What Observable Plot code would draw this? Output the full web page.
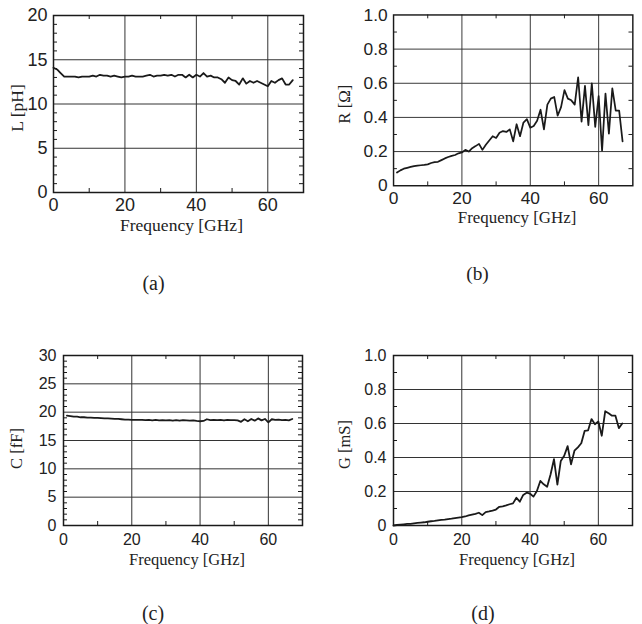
<!DOCTYPE html>
<html>
<head>
<meta charset="utf-8">
<script src="https://cdn.jsdelivr.net/npm/d3@7"></script>
<script src="https://cdn.jsdelivr.net/npm/@observablehq/plot@0.6"></script>
<style>
  html, body { margin: 0; padding: 0; background: #fff; }
  body { width: 642px; height: 624px; overflow: hidden; position: relative; }
  .panel { position: absolute; }
  .panel svg { overflow: visible; }
</style>
</head>
<body>
<div id="a" class="panel" style="left:0px;top:0px"></div>
<div id="b" class="panel" style="left:340px;top:0px"></div>
<div id="c" class="panel" style="left:0px;top:312px"></div>
<div id="d" class="panel" style="left:330px;top:312px"></div>
<script>
// ---------- data ----------
const freq = [0,1,2,3,4,5,6,7,8,9,10,11,12,13,14,15,16,17,18,19,20,21,22,23,24,25,26,27,28,29,30,31,32,33,34,35,36,37,38,39,40,41,42,43,44,45,46,47,48,49,50,51,52,53,54,55,56,57,58,59,60,61,62,63,64,65,66,67];
const freqFrom1 = [1,2,3,4,5,6,7,8,9,10,11,12,13,14,15,16,17,18,19,20,21,22,23,24,25,26,27,28,29,30,31,32,33,34,35,36,37,38,39,40,41,42,43,44,45,46,47,48,49,50,51,52,53,54,55,56,57,58,59,60,61,62,63,64,65,66,67];

// L [pH], f = 0..67
const L = [14.1,13.9,13.5,13.1,13.1,13.1,13.1,13.0,13.1,13.1,13.1,13.2,13.1,13.3,13.2,13.2,13.1,13.2,13.1,13.0,
           13.1,13.1,13.2,13.1,13.1,13.1,13.2,13.3,13.1,13.2,13.2,13.3,13.2,13.3,13.1,13.3,13.3,13.0,13.3,13.0,
           13.3,13.1,13.5,13.1,13.2,13.0,13.0,12.8,12.4,13.0,12.7,12.6,12.2,12.9,12.3,12.6,12.4,12.6,12.4,12.2,
           12.0,12.6,12.4,12.7,12.9,12.2,12.2,12.7];
// R [Ohm], f = 1..67
const R = [0.077,0.09,0.10,0.105,0.11,0.115,0.118,0.12,0.122,0.125,0.133,0.138,0.14,0.15,0.16,0.168,0.175,0.18,0.19,0.195,
           0.21,0.20,0.22,0.232,0.245,0.21,0.24,0.265,0.29,0.28,0.31,0.32,0.315,0.33,0.26,0.36,0.29,0.37,0.39,0.34,
           0.35,0.38,0.445,0.33,0.475,0.51,0.52,0.41,0.46,0.56,0.51,0.50,0.475,0.635,0.375,0.585,0.355,0.60,0.345,0.525,
           0.205,0.54,0.305,0.57,0.44,0.44,0.26];
// C [fF], f = 1..67
const C = [19.4,19.3,19.2,19.2,19.1,19.1,19.05,19.05,19.0,19.0,18.95,18.9,18.9,18.85,18.8,18.8,18.75,18.7,18.7,18.65,
           18.65,18.65,18.65,18.6,18.65,18.55,18.65,18.55,18.6,18.55,18.6,18.5,18.6,18.5,18.6,18.55,18.5,18.55,18.45,18.4,
           18.45,18.75,18.6,18.65,18.6,18.65,18.55,18.65,18.6,18.6,18.55,18.3,18.75,18.4,18.8,18.5,18.9,18.55,18.8,18.2,
           18.75,18.65,18.7,18.6,18.65,18.55,18.8];
// G [mS], f = 0..67
const G = [0.0,0.003,0.005,0.007,0.009,0.01,0.013,0.015,0.017,0.019,0.022,0.025,0.027,0.03,0.033,0.035,0.038,0.04,0.043,0.046,
           0.049,0.053,0.059,0.064,0.069,0.075,0.061,0.079,0.083,0.088,0.094,0.11,0.112,0.118,0.125,0.13,0.163,0.14,0.18,0.193,
           0.187,0.17,0.203,0.262,0.242,0.228,0.30,0.39,0.24,0.38,0.41,0.467,0.36,0.44,0.46,0.484,0.557,0.56,0.626,0.596,
           0.612,0.528,0.672,0.66,0.646,0.646,0.573,0.60];

// ---------- ticks & labels ----------
const xTicks = [0,20,40,60];
const xGrid = [20,40,60];
const xMinor = [10,30,50];
const lTicks = [0,5,10,15,20];
const lGrid = [5,10,15];
const lMinor = [1,2,3,4,6,7,8,9,11,12,13,14,16,17,18,19];
const cTicks = [0,5,10,15,20,25,30];
const cGrid = [5,10,15,20,25];
const cMinor = [1,2,3,4,6,7,8,9,11,12,13,14,16,17,18,19,21,22,23,24,26,27,28,29];
const unitTicks = [0,0.2,0.4,0.6,0.8,1.0];
const unitGrid = [0.2,0.4,0.6,0.8];
const unitMinor = [0.1,0.3,0.5,0.7,0.9];
const xTitle = "Frequency [GHz]";
const yTitles = ["L [pH]", "R [Ω]", "C [fF]", "G [mS]"];
const tags = ["(a)", "(b)", "(c)", "(d)"];

const SANS = "'Liberation Sans', Arial, Helvetica, sans-serif";
const SERIF = "'Liberation Serif', 'Times New Roman', Times, serif";
const unitFmt = d => d === 0 ? "0" : d.toFixed(1);

function panel(p) {
  const fw = p.width - p.ml - p.mr;
  const fh = p.height - p.mt - p.mb;
  const ink = "#1a1a1a";
  return Plot.plot({
    width: p.width, height: p.height,
    marginLeft: p.ml, marginRight: p.mr, marginTop: p.mt, marginBottom: p.mb,
    style: {fontFamily: SANS, fontSize: p.tickFont + "px", color: "#222", background: "transparent", overflow: "visible"},
    x: {domain: [0, 70]},
    y: {domain: p.yDomain},
    marks: [
      Plot.gridX(xGrid, {stroke: "#333", strokeOpacity: 1, strokeWidth: 1}),
      Plot.gridY(p.yGrid, {stroke: "#333", strokeOpacity: 1, strokeWidth: 1}),
      Plot.tickX(xMinor, {x: d => d, insetTop: fh - 4, stroke: ink}),
      Plot.tickX(xMinor, {x: d => d, insetBottom: fh - 4, stroke: ink}),
      Plot.tickY(p.yMinor, {y: d => d, insetRight: fw - 4, stroke: ink}),
      Plot.tickY(p.yMinor, {y: d => d, insetLeft: fw - 4, stroke: ink}),
      Plot.line(p.values, {x: p.fr, y: p.values, stroke: ink, strokeWidth: 1.8, strokeLinejoin: "round"}),
      Plot.frame({stroke: ink, strokeWidth: 1.5}),
      Plot.axisX(xTicks, {tickSize: 0, tickPadding: p.xPad, label: null, fill: "#222", fontSize: p.tickFont}),
      Plot.axisY(p.yTicks, {tickSize: 0, tickPadding: p.yPad, label: null, tickFormat: p.yFmt, fill: "#222", fontSize: p.tickFont}),
      Plot.text([xTitle], {text: d => d, frameAnchor: "bottom", dx: p.titleDx, dy: p.titleDy,
        textAnchor: "middle", lineAnchor: "middle",
        fontFamily: SERIF, fontSize: p.titleFont, fill: "#222"}),
      Plot.text([p.yTitle], {text: d => d, frameAnchor: "left", dx: p.yTitleDx, dy: p.yTitleDy, rotate: -90,
        textAnchor: "middle", lineAnchor: "middle",
        fontFamily: SERIF, fontSize: p.titleFont, fill: "#222"}),
      Plot.text([p.tag], {text: d => d, frameAnchor: "bottom", dx: p.tagDx, dy: p.tagDy,
        textAnchor: "middle", lineAnchor: "middle",
        fontFamily: SERIF, fontSize: 20, fill: "#222"})
    ]
  });
}

document.getElementById("a").append(panel({
  values: L, fr: freq, yDomain: [0, 20], yTicks: lTicks, yGrid: lGrid, yMinor: lMinor, yFmt: d => String(d),
  width: 313, height: 312, ml: 53, mr: 10, mt: 15, mb: 120,
  tickFont: 18, titleFont: 17.5, xPad: 6, yPad: 6,
  titleDx: 3, titleDy: 33, yTitle: yTitles[0], yTitleDx: -36, yTitleDy: 4,
  tag: tags[0], tagDx: -25, tagDy: 91
}));
document.getElementById("b").append(panel({
  values: R, fr: freqFrom1, yDomain: [0, 1], yTicks: unitTicks, yGrid: unitGrid, yMinor: unitMinor, yFmt: unitFmt,
  width: 313, height: 312, ml: 55, mr: 10, mt: 15, mb: 120,
  tickFont: 18, titleFont: 17.5, xPad: 6, yPad: 6,
  titleDx: 4, titleDy: 33, yTitle: yTitles[1], yTitleDx: -51, yTitleDy: 4,
  tag: tags[1], tagDx: -37, tagDy: 91
}));
document.getElementById("c").append(panel({
  values: C, fr: freqFrom1, yDomain: [0, 30], yTicks: cTicks, yGrid: cGrid, yMinor: cMinor, yFmt: d => String(d),
  width: 312, height: 312, ml: 63, mr: 10, mt: 43, mb: 99,
  tickFont: 16, titleFont: 16.5, xPad: 8, yPad: 7,
  titleDx: 4, titleDy: 34, yTitle: yTitles[2], yTitleDx: -47, yTitleDy: 8,
  tag: tags[2], tagDx: -30, tagDy: 88
}));
document.getElementById("d").append(panel({
  values: G, fr: freq, yDomain: [0, 1], yTicks: unitTicks, yGrid: unitGrid, yMinor: unitMinor, yFmt: unitFmt,
  width: 312, height: 312, ml: 63, mr: 10, mt: 43, mb: 99,
  tickFont: 16, titleFont: 16.5, xPad: 8, yPad: 7,
  titleDx: 4, titleDy: 34, yTitle: yTitles[3], yTitleDx: -49, yTitleDy: 4,
  tag: tags[3], tagDx: -30, tagDy: 88
}));
</script>
</body>
</html>
